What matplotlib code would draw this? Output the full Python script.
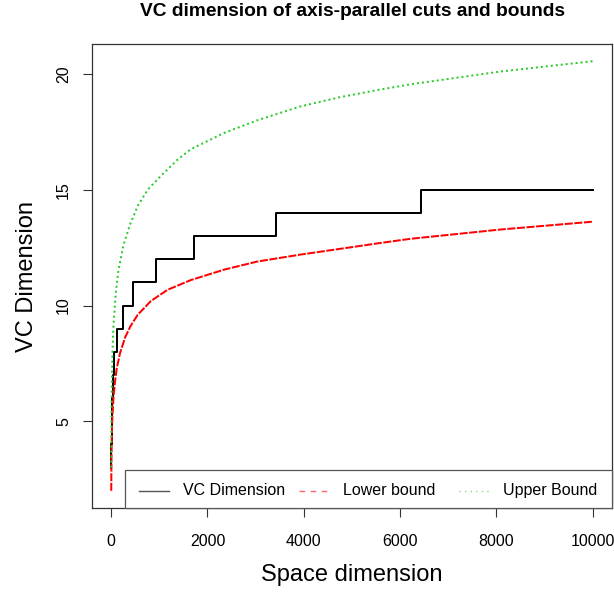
import matplotlib.pyplot as plt
from matplotlib.lines import Line2D
from matplotlib.patches import Rectangle

plt.rcParams['font.family'] = ['Liberation Sans', 'DejaVu Sans']

# VC dimension (step function): value holds from each start dimension on
vc_start = [3, 6, 10, 20, 35, 70, 126, 252, 462, 924, 1716, 3432, 6435, 10000]
vc_value = [3, 4, 5, 6, 7, 8, 9, 10, 11, 12, 13, 14, 15, 15]

# Lower bound
low_d = [3, 5, 8, 14, 25, 48, 80, 118, 186, 290, 400, 552, 828, 1173, 1656,
         2346, 3037, 3934, 4762, 5521, 6211, 8075, 10000]
low_y = [2.0, 2.75, 3.4, 4.3, 5.1, 6.0, 6.7, 7.3, 7.95, 8.62, 9.1, 9.6, 10.2,
         10.68, 11.1, 11.55, 11.9, 12.2, 12.45, 12.68, 12.88, 13.28, 13.62]

# Upper bound
up_d = [3, 5, 8, 14, 27, 48, 97, 151, 255, 393, 552, 759, 1035, 1380, 1656,
        2346, 3037, 3934, 4762, 5521, 6211, 8075, 10000]
up_y = [3.0, 4.1, 5.2, 6.4, 7.9, 9.1, 10.55, 11.5, 12.6, 13.5, 14.3, 15.0,
        15.6, 16.3, 16.75, 17.45, 18.0, 18.6, 19.0, 19.3, 19.55, 20.1, 20.55]

legend_labels = ['VC Dimension', 'Lower bound', 'Upper Bound']

green = '#2bcb2b'
W, H = 614, 594

fig = plt.figure(figsize=(6.14, 5.94), dpi=100)
ax = fig.add_axes([92 / W, 1 - 508 / H, 520 / W, 464 / H])

ax.step(vc_start, vc_value, where='post', color='black', lw=1.44)
ax.plot(low_d, low_y, color='red', lw=1.44, dashes=(4, 0.8))
ax.plot(up_d, up_y, color=green, lw=1.44, dashes=(1, 1.5))

ax.margins(x=0.04, y=0.04)
ax.set_xticks([0, 2000, 4000, 6000, 8000, 10000])
ax.set_yticks([5, 10, 15, 20])

for s in ax.spines.values():
    s.set_color('#333333')
    s.set_linewidth(0.9)

ax.tick_params(length=6.5, width=0.8, color='#333333', labelsize=11.5)
ax.tick_params(axis='x', pad=12)
ax.tick_params(axis='y', pad=8.5)
for lab in ax.get_yticklabels():
    lab.set_rotation(90)
    lab.set_va('center')

ax.set_xlabel('Space dimension', fontsize=17, va='center')
ax.xaxis.set_label_coords(0.5, (508 - 575) / 464)
ax.set_ylabel('VC Dimension', fontsize=17, va='center')
ax.yaxis.set_label_coords((27 - 92) / 520, 0.5)

fig.text(352 / W, 1 - 12 / H, 'VC dimension of axis-parallel cuts and bounds',
         ha='center', va='center', fontsize=13.75, fontweight='bold')

# legend drawn like R's: equal-width columns in a box at the bottom right
fig.add_artist(Rectangle((125 / W, 1 - 508 / H), (612 - 125) / W, 38 / H,
                         transform=fig.transFigure, facecolor='white',
                         edgecolor='#555555', lw=0.9, zorder=5))
key_styles = [dict(color='#555555'), dict(color='#ff6666', dashes=(4, 4)),
              dict(color='#88dd88', dashes=(1, 3))]
ly = 1 - 490.5 / H
for i, (lab, st) in enumerate(zip(legend_labels, key_styles)):
    x0 = 139 + 160 * i
    fig.add_artist(Line2D([x0 / W, (x0 + 30) / W], [ly, ly], lw=1,
                          transform=fig.transFigure, zorder=6, **st))
    fig.text((x0 + 44) / W, ly, lab, ha='left', va='center', fontsize=11.5,
             zorder=6)

plt.savefig('out.png', dpi=100)
